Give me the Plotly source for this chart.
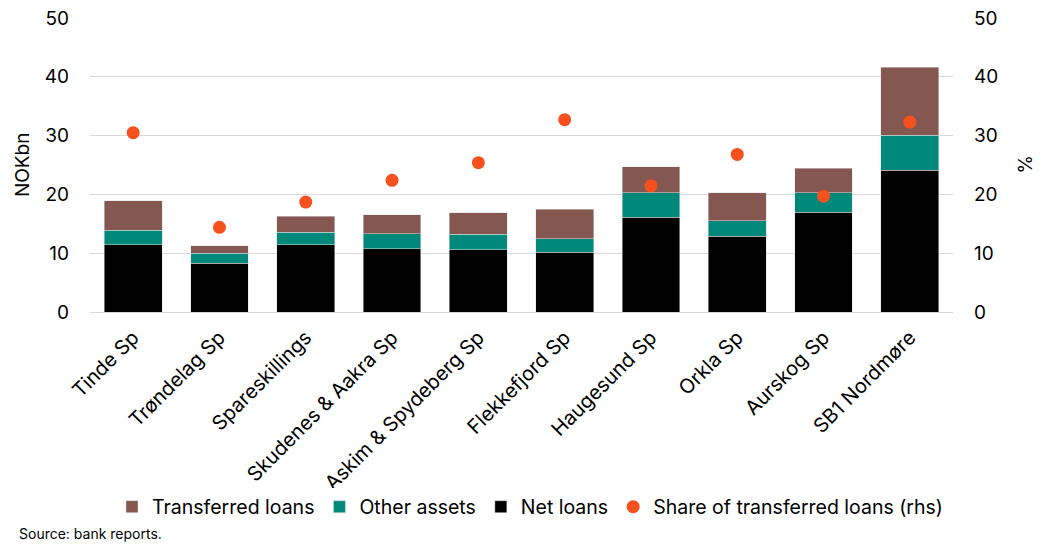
import plotly.graph_objects as go

categories = ["Tinde Sp", "Trøndelag Sp", "Spareskillings", "Skudenes & Aakra Sp",
              "Askim & Spydeberg Sp", "Flekkefjord Sp", "Haugesund Sp", "Orkla Sp",
              "Aurskog Sp", "SB1 Nordmøre"]
net_loans = [11.4, 8.25, 11.4, 10.75, 10.6, 10.2, 16.1, 12.9, 17.0, 24.1]
other_assets = [2.5, 1.7, 2.2, 2.6, 2.65, 2.25, 4.15, 2.6, 3.25, 6.0]
transferred_loans = [5.05, 1.3, 2.7, 3.15, 3.6, 5.05, 4.45, 4.75, 4.2, 11.5]
share_transferred = [30.5, 14.4, 18.7, 22.4, 25.4, 32.7, 21.45, 26.8, 19.7, 32.3]
y_ticks = [0, 10, 20, 30, 40, 50]

FONT = "Inter"
L, R, T, B = 90, 94, 18, 233
W, H = 1047, 545
pw, ph = W - L - R, H - T - B


def px_x(x):
    return (x - L) / pw


def px_y(y):
    return (H - B - y) / ph


fig = go.Figure()
fig.add_trace(go.Bar(x=categories, y=net_loans, name="Net loans",
                     marker=dict(color="#000000", line=dict(color="#e0e0e0", width=0.5)),
                     legendrank=3))
fig.add_trace(go.Bar(x=categories, y=other_assets, name="Other assets",
                     marker=dict(color="#00897B", line=dict(color="#e0e0e0", width=0.5)),
                     legendrank=2))
fig.add_trace(go.Bar(x=categories, y=transferred_loans, name="Transferred loans",
                     marker=dict(color="#845750", line=dict(color="#e0e0e0", width=0.5)),
                     legendrank=1))
fig.add_trace(go.Scatter(x=categories, y=share_transferred, name="Share of transferred loans (rhs)",
                         mode="markers", yaxis="y2",
                         marker=dict(color="#F4511E", size=13), legendrank=4))

fig.update_layout(
    width=W, height=H,
    margin=dict(l=L, r=R, t=T, b=B, autoexpand=False),
    barmode="stack", bargap=0.33,
    plot_bgcolor="white", paper_bgcolor="white",
    font=dict(family=FONT, size=18, color="#000000"),
    showlegend=True,
    legend=dict(orientation="h", traceorder="normal", x=px_x(530), xanchor="center",
                y=px_y(507), yanchor="middle",
                font=dict(size=19.5), itemwidth=30, tracegroupgap=0),
    xaxis=dict(range=[-0.5, 9.5], tickangle=-45, showgrid=False, showline=False, ticks="",
               tickfont=dict(size=20), ticklabelstandoff=9, automargin=False),
    yaxis=dict(range=[0, 50], tickvals=y_ticks, showgrid=True, gridcolor="#d9d9d9",
               gridwidth=1, zeroline=True, zerolinecolor="#d9d9d9", zerolinewidth=1,
               showline=False, ticks="", ticklabelstandoff=20,
               tickfont=dict(size=19), automargin=False),
    yaxis2=dict(range=[0, 50], tickvals=y_ticks, overlaying="y", side="right",
                showgrid=False, zeroline=False, showline=False, ticks="",
                ticklabelstandoff=20, tickfont=dict(size=19), automargin=False),
    annotations=[
        dict(text="NOKbn", x=px_x(22), y=px_y(165), xref="paper", yref="paper",
             xanchor="center", yanchor="middle",
             showarrow=False, textangle=-90, font=dict(size=19)),
        dict(text="%", x=px_x(1025), y=px_y(164), xref="paper", yref="paper",
             xanchor="center", yanchor="middle",
             showarrow=False, textangle=90, font=dict(size=19)),
        dict(text="Source: bank reports.", x=px_x(17), y=px_y(533), xref="paper",
             yref="paper", showarrow=False, xanchor="left", yanchor="middle",
             font=dict(size=14)),
    ],
)

fig.write_html("out.html", config={"displayModeBar": False},
               post_script="document.body.style.margin='0';document.body.style.overflow='hidden';")
